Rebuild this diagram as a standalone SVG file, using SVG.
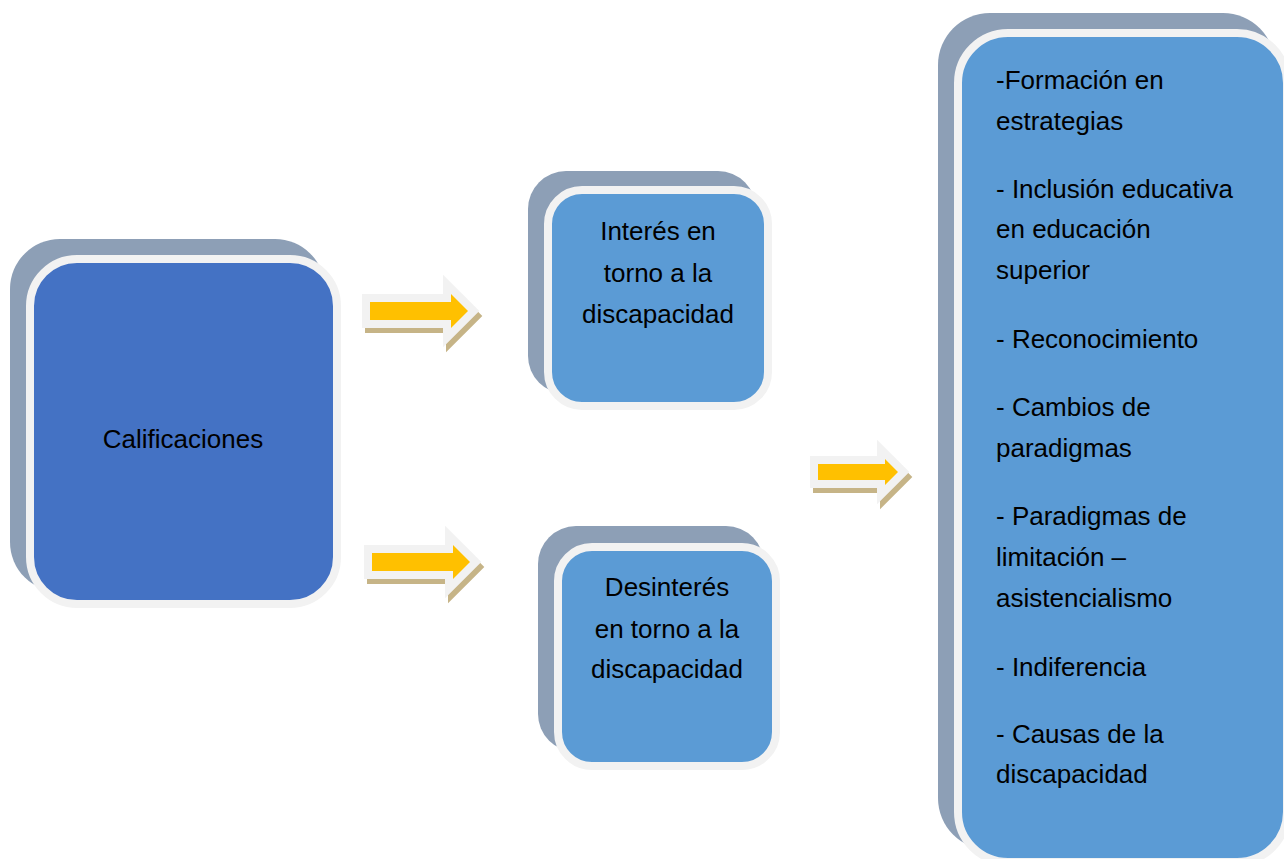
<svg xmlns="http://www.w3.org/2000/svg" width="1284" height="859" viewBox="0 0 1284 859">
<defs>
<style>
.shadow{fill:#8d9fb6;}
.dark{fill:#4472c4;stroke:#f2f2f2;stroke-width:8;}
.light{fill:#5b9bd5;stroke:#f2f2f2;stroke-width:8;}
.t{font-family:"Liberation Sans",Arial,sans-serif;font-size:26px;fill:#000;}
.c{text-anchor:middle;}
.arr{fill:#ffc000;stroke:#f2f2f2;stroke-width:16;stroke-linejoin:miter;stroke-miterlimit:4;paint-order:stroke fill;}
.arrsh{fill:#c6b487;stroke:#c6b487;stroke-width:16;stroke-linejoin:miter;stroke-miterlimit:4;}
</style>
</defs>
<rect width="1284" height="859" fill="#ffffff"/>
<g id="calificaciones">
<rect class="shadow" x="10" y="239" width="315" height="353" rx="50"/>
<rect class="dark" x="30" y="259" width="307" height="345" rx="47"/>
<text class="t c" x="183" y="448">Calificaciones</text>
</g>
<g id="interes">
<rect class="shadow" x="528" y="171" width="228" height="223" rx="38"/>
<rect class="light" x="548" y="190" width="220" height="216" rx="34"/>
<text class="t c" x="658" y="240">Interés en</text>
<text class="t c" x="658" y="282">torno a la</text>
<text class="t c" x="658" y="323">discapacidad</text>
</g>
<g id="desinteres">
<rect class="shadow" x="538" y="526" width="226" height="226" rx="38"/>
<rect class="light" x="558" y="547" width="218" height="219" rx="34"/>
<text class="t c" x="667" y="596">Desinterés</text>
<text class="t c" x="667" y="638">en torno a la</text>
<text class="t c" x="667" y="678">discapacidad</text>
</g>
<g id="resultados">
<rect class="shadow" x="938" y="13" width="337" height="837" rx="52"/>
<rect class="light" x="958" y="33" width="329" height="829" rx="50"/>
<text class="t" x="996" y="89">-Formación en</text>
<text class="t" x="996" y="130">estrategias</text>
<text class="t" x="996" y="198">- Inclusión educativa</text>
<text class="t" x="996" y="238">en educación</text>
<text class="t" x="996" y="279">superior</text>
<text class="t" x="996" y="348">- Reconocimiento</text>
<text class="t" x="996" y="416">- Cambios de</text>
<text class="t" x="996" y="457">paradigmas</text>
<text class="t" x="996" y="525">- Paradigmas de</text>
<text class="t" x="996" y="566">limitación –</text>
<text class="t" x="996" y="607">asistencialismo</text>
<text class="t" x="996" y="676">- Indiferencia</text>
<text class="t" x="996" y="743">- Causas de la</text>
<text class="t" x="996" y="783">discapacidad</text>
</g>
<g id="connectors">
<g id="arrow1">
<path class="arrsh" transform="translate(3,5)" d="M370,302 H451 V294 L468,311 L451,328 V320 H370 Z"/>
<path class="arr" d="M370,302 H451 V294 L468,311 L451,328 V320 H370 Z"/>
</g>
<g id="arrow2">
<path class="arrsh" transform="translate(3,5)" d="M372,553 H453 V545 L470,562 L453,579 V571 H372 Z"/>
<path class="arr" d="M372,553 H453 V545 L470,562 L453,579 V571 H372 Z"/>
</g>
<g id="arrow3">
<path class="arrsh" transform="translate(3,5)" d="M818,464 H885 V459 L898,472 L885,485 V480 H818 Z"/>
<path class="arr" d="M818,464 H885 V459 L898,472 L885,485 V480 H818 Z"/>
</g>
</g>
</svg>
